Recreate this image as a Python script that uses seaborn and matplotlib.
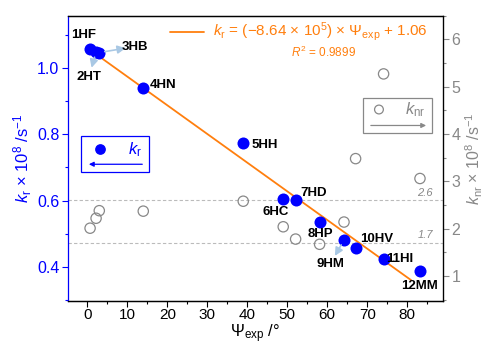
import numpy as np
import pandas as pd
import matplotlib
matplotlib.use("Agg")
import matplotlib.pyplot as plt
import seaborn as sns
from matplotlib.patches import Rectangle
from matplotlib.ticker import MultipleLocator

# date
compusi = ["1HF", "2HT", "3HB", "4HN", "5HH", "6HC", "7HD", "8HP", "9HM", "10HV", "11HI", "12MM"]
psi_exp = [0.7, 2.2, 3.0, 14.0, 39.0, 49.0, 52.1, 58.1, 64.2, 67.1, 74.1, 83.2]
k_r = [1.057, 1.048, 1.046, 0.940, 0.773, 0.605, 0.602, 0.537, 0.481, 0.456, 0.423, 0.388]
k_nr = [2.01, 2.22, 2.38, 2.37, 2.58, 2.04, 1.78, 1.67, 2.14, 3.48, 5.27, 3.06]

# fit liniar (unitati 10^8 s^-1)
panta = -8.64e5 / 1e8
intercept = 1.06
fit_x = [0.7, 81.0]
praguri_knr = [2.6, 1.7]

df = pd.DataFrame({"compus": compusi, "psi": psi_exp, "kr": k_r, "knr": k_nr})
df_fit = pd.DataFrame({"psi": fit_x})
df_fit["kr"] = panta * df_fit["psi"] + intercept

# pozitii etichete (date ale axei stangi)
pozitii_etichete = {
    "1HF": (-0.8, 1.100), "2HT": (0.4, 0.972), "3HB": (12.0, 1.064),
    "4HN": (18.9, 0.948), "5HH": (44.4, 0.768), "6HC": (47.0, 0.566),
    "7HD": (56.7, 0.623), "8HP": (58.2, 0.499), "9HM": (60.7, 0.408),
    "10HV": (72.4, 0.484), "11HI": (78.2, 0.425), "12MM": (83.2, 0.343),
}
cu_sageata = {"2HT", "3HB", "9HM"}

ALBASTRU = "#0000FF"
GRI = "#888888"
PORTOCALIU = "#FF7F0E"
SAGEATA = "#A9C8E4"

sns.set_theme(style="white")
plt.rcParams["font.family"] = ["Liberation Sans", "DejaVu Sans"]
plt.rcParams["mathtext.fontset"] = "custom"
plt.rcParams["mathtext.rm"] = "Liberation Sans"
plt.rcParams["mathtext.it"] = "Liberation Sans:italic"
plt.rcParams["text.color"] = "black"
plt.rcParams["axes.labelcolor"] = "black"
plt.rcParams["xtick.color"] = "black"

fig = plt.figure(figsize=(4.87, 3.45), dpi=100)
ax = fig.add_axes([0.139, 0.128, 0.771, 0.8265])
ax2 = ax.twinx()

# linii de prag pe axa dreapta
for p in praguri_knr:
    ax2.axhline(p, color="#BBBBBB", lw=0.8, ls=(0, (3, 2)), zorder=0)
    ax2.text(86.5, p + 0.05, f"{p}", color=GRI, fontsize=8, style="italic",
             ha="right", va="bottom")

sns.scatterplot(data=df, x="psi", y="knr", ax=ax2, s=55, marker="o",
                facecolor="none", edgecolor=GRI, linewidth=0.9, zorder=2)

sns.lineplot(data=df_fit, x="psi", y="kr", ax=ax, color=PORTOCALIU, lw=1.3, zorder=3)
sns.scatterplot(data=df, x="psi", y="kr", ax=ax, s=75, color=ALBASTRU,
                edgecolor=ALBASTRU, linewidth=0, zorder=4)

ax.set_zorder(ax2.get_zorder() + 1)
ax.patch.set_visible(False)

for _, r in df.iterrows():
    tx, ty = pozitii_etichete[r["compus"]]
    if r["compus"] in cu_sageata:
        ax.annotate("", xy=(tx, ty), xytext=(r["psi"], r["kr"]),
                    arrowprops=dict(arrowstyle="-|>", color=SAGEATA, lw=1.2,
                                    shrinkA=4, shrinkB=7), zorder=5)
    ax.text(tx, ty, r["compus"], fontsize=9.5, fontweight="bold", color="black",
            ha="center", va="center", zorder=6)

ax.set_xlim(-4.9, 89)
ax.set_ylim(0.298, 1.157)
ax2.set_ylim(0.475, 6.5)

ax.xaxis.set_major_locator(MultipleLocator(10))
ax.xaxis.set_minor_locator(MultipleLocator(5))
ax.yaxis.set_major_locator(MultipleLocator(0.2))
ax.yaxis.set_minor_locator(MultipleLocator(0.1))
ax2.yaxis.set_major_locator(MultipleLocator(1))
ax2.yaxis.set_minor_locator(MultipleLocator(0.5))

ax.tick_params(axis="x", which="both", direction="out", bottom=True, length=4,
               width=0.8, color="black", labelcolor="black", labelsize=11, pad=1.5)
ax.tick_params(axis="x", which="minor", length=2.5)
ax.tick_params(axis="y", which="both", direction="out", left=True, length=4,
               width=0.8, color=ALBASTRU, labelcolor=ALBASTRU, labelsize=11.5, pad=2)
ax.tick_params(axis="y", which="minor", length=2.5)
ax2.tick_params(axis="y", which="both", direction="out", right=True, length=4,
                width=0.8, color=GRI, labelcolor=GRI, labelsize=11.5, pad=2)
ax2.tick_params(axis="y", which="minor", length=2.5)

for a in (ax, ax2):
    for s in a.spines.values():
        s.set_linewidth(0.9)
        s.set_color("black")
ax.spines["left"].set_color(ALBASTRU)
ax2.spines["left"].set_visible(False)
ax2.spines["right"].set_color(GRI)

ax.set_xlabel(r"$\Psi_\mathrm{exp}$ /°", fontsize=12)
ax.xaxis.set_label_coords(0.5, -0.075)
ax.xaxis.label.set_va("top")
ax.set_ylabel(r"$k_\mathrm{r}$ × 10$^8$ /s$^{-1}$", fontsize=12, color=ALBASTRU, labelpad=2)
ax2.set_ylabel(r"$k_\mathrm{nr}$ × 10$^8$ /s$^{-1}$", fontsize=11.5, color=GRI, labelpad=2)

# legenda fit
ax.plot([0.272, 0.363], [0.943, 0.943], transform=ax.transAxes, color=PORTOCALIU, lw=1.3)
ax.text(0.387, 0.943, r"$k_\mathrm{r}$ = (−8.64 × 10$^5$) × $\Psi_\mathrm{exp}$ + 1.06",
        transform=ax.transAxes, color=PORTOCALIU, fontsize=11, ha="left", va="center")
ax.text(0.68, 0.873, r"$R^2$ = 0.9899", transform=ax.transAxes, color=PORTOCALIU,
        fontsize=8.5, ha="center", va="center")

# cutie k_r
ax.add_patch(Rectangle((0.035, 0.451), 0.181, 0.126, transform=ax.transAxes,
                       fill=False, edgecolor=ALBASTRU, lw=0.9))
ax.scatter([0.086], [0.531], transform=ax.transAxes, s=45, color=ALBASTRU)
ax.text(0.179, 0.531, r"$k_\mathrm{r}$", transform=ax.transAxes, color=ALBASTRU,
        fontsize=12, ha="center", va="center")
ax.annotate("", xy=(0.049, 0.479), xytext=(0.206, 0.479), xycoords="axes fraction",
            arrowprops=dict(arrowstyle="-|>", color=ALBASTRU, lw=0.9, mutation_scale=7))

# cutie k_nr
ax.add_patch(Rectangle((0.786, 0.587), 0.184, 0.126, transform=ax.transAxes,
                       fill=False, edgecolor=GRI, lw=0.9))
ax.scatter([0.829], [0.671], transform=ax.transAxes, s=40, facecolor="none",
           edgecolor=GRI, linewidth=0.9)
ax.text(0.925, 0.671, r"$k_\mathrm{nr}$", transform=ax.transAxes, color=GRI,
        fontsize=12, ha="center", va="center")
ax.annotate("", xy=(0.962, 0.615), xytext=(0.80, 0.615), xycoords="axes fraction",
            arrowprops=dict(arrowstyle="-|>", color=GRI, lw=0.9, mutation_scale=7))

fig.savefig("out.png", dpi=100)
